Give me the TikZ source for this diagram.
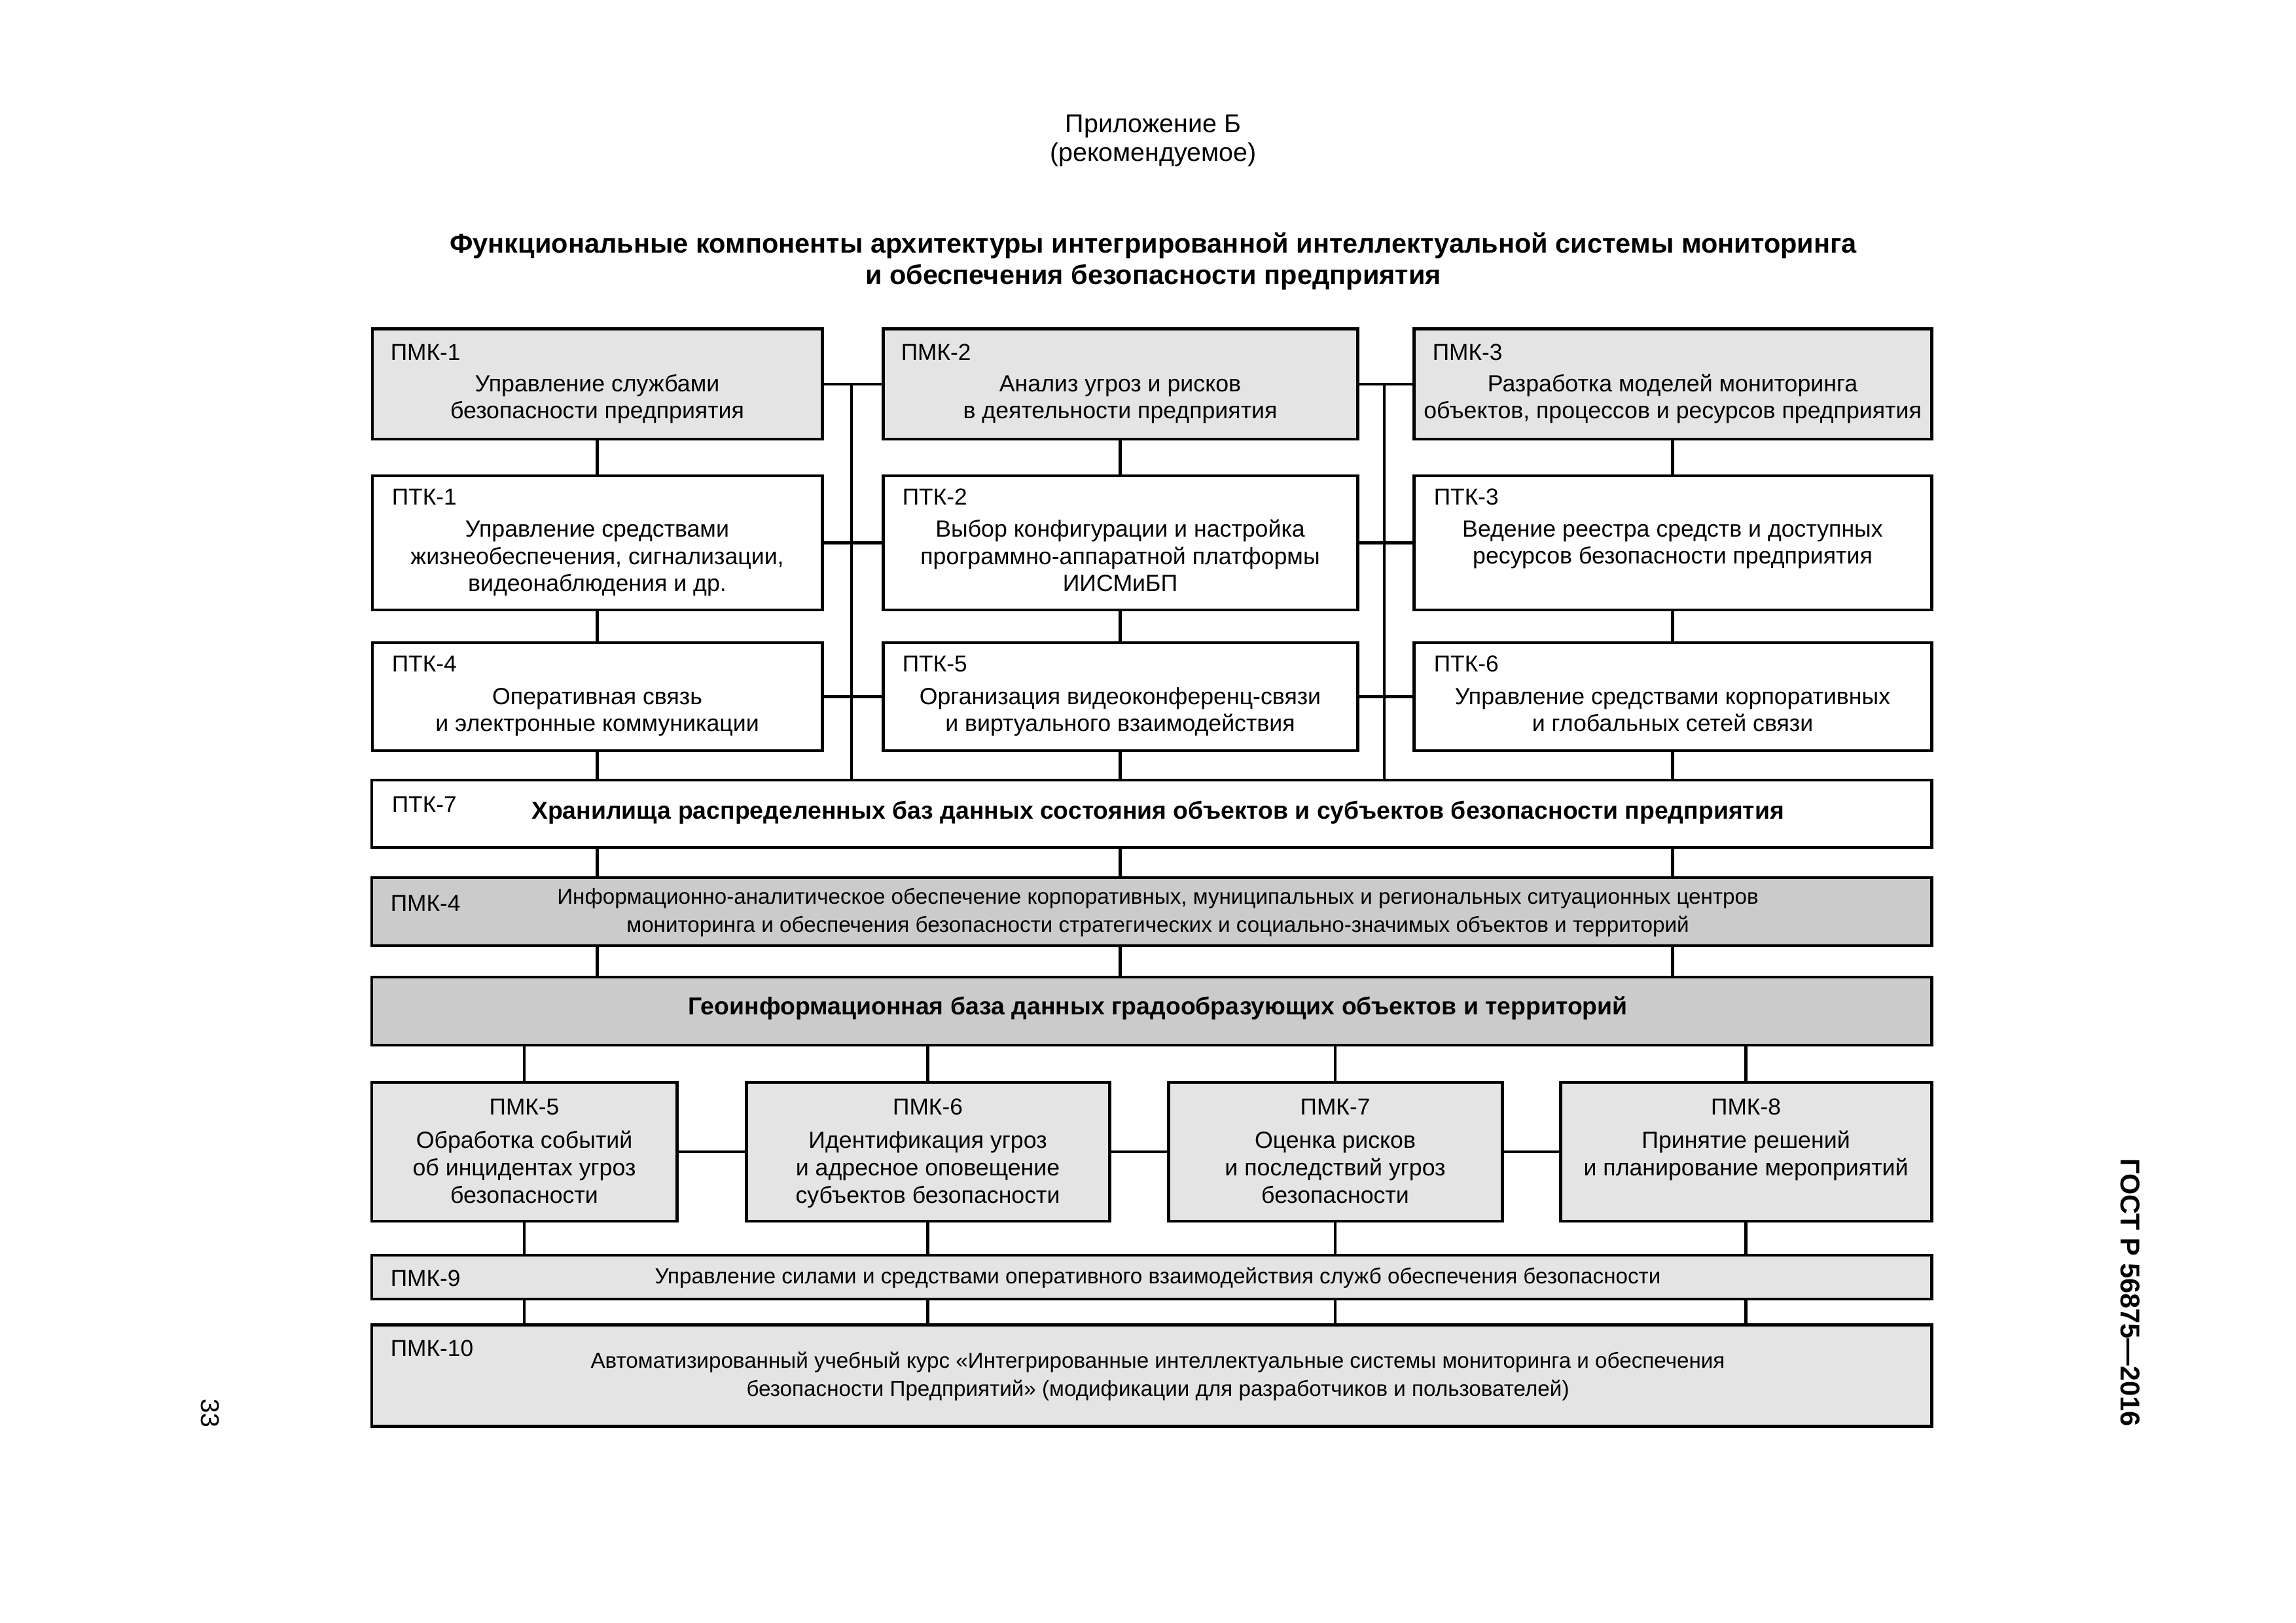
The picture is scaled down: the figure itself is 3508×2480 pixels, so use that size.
\documentclass[tikz,border=0pt]{standalone}
\usepackage{fontspec}
\setmainfont{Liberation Sans}
\newdimen\pxu \pxu=0.084664mm
\definecolor{lg}{HTML}{E4E4E4}
\definecolor{dg}{HTML}{CBCBCB}
\tikzset{
  box/.style={draw=black,line width=1.2pt,rectangle,inner sep=0pt,outer sep=0pt},
  conn/.style={draw=black,line width=1.05pt},
  lab/.style={inner sep=0pt,font=\fontsize{8.5}{10.1}\selectfont},
  txt/.style={inner sep=0pt,align=center,font=\fontsize{8.6}{10.1}\selectfont},
  wtxt/.style={inner sep=0pt,align=center,font=\fontsize{8}{10.3}\selectfont},
  btxt/.style={inner sep=0pt,align=center,font=\fontsize{9}{10.3}\selectfont\bfseries},
}
\newcommand\mkbox[6]{\node[box,fill=#6,minimum width={(#4-#2)*\pxu},minimum height={(#5-#3)*\pxu}] (#1) at ({(#2+#4)/2},{(#3+#5)/2}) {};}
\begin{document}
\begin{tikzpicture}[x=0.084664mm,y=-0.084664mm]
\useasboundingbox (0,0) rectangle (3508,2480);
% header (anchor=base refers to the last line of a node)
\node[inner sep=0pt,anchor=base,font=\fontsize{9.5}{11}\selectfont] (h1) at (1762,203) {Приложение Б};
\node[inner sep=0pt,anchor=base,font=\fontsize{9.5}{11}\selectfont] (h2) at (1762,247) {(рекомендуемое)};
\node[inner sep=0pt,anchor=base,align=center,font=\fontsize{10}{11.75}\selectfont\bfseries] (ttl) at (1762,435) {Функциональные компоненты архитектуры интегрированной интеллектуальной системы мониторинга\\и обеспечения безопасности предприятия};
% row 1
\mkbox{p1}{569}{503}{1256}{671}{lg}
\mkbox{p2}{1349}{503}{2074}{671}{lg}
\mkbox{p3}{2160}{503}{2951}{671}{lg}
% row 2
\mkbox{t1}{569}{727}{1256}{932}{white}
\mkbox{t2}{1349}{727}{2074}{932}{white}
\mkbox{t3}{2160}{727}{2951}{932}{white}
% row 3
\mkbox{t4}{569}{982}{1256}{1147}{white}
\mkbox{t5}{1349}{982}{2074}{1147}{white}
\mkbox{t6}{2160}{982}{2951}{1147}{white}
% wide
\mkbox{t7}{568}{1192}{2951}{1295}{white}
\mkbox{p4}{568}{1341}{2951}{1445}{dg}
\mkbox{geo}{568}{1493}{2951}{1597}{dg}
% bottom row
\mkbox{p5}{568}{1654}{1034}{1866}{lg}
\mkbox{p6}{1140}{1654}{1695}{1866}{lg}
\mkbox{p7}{1785}{1654}{2295}{1866}{lg}
\mkbox{p8}{2384}{1654}{2951}{1866}{lg}
\mkbox{p9}{568}{1918}{2951}{1985}{lg}
\mkbox{p10}{568}{2024}{2951}{2179}{lg}
% texts row 1
\node[lab,anchor=base west] at (596,551) {ПМК-1};
\node[txt,anchor=base] at (912.5,640) {Управление службами\\безопасности предприятия};
\node[lab,anchor=base west] at (1376,551) {ПМК-2};
\node[txt,anchor=base] at (1711.5,640) {Анализ угроз и рисков\\в деятельности предприятия};
\node[lab,anchor=base west] at (2188,551) {ПМК-3};
\node[txt,anchor=base] at (2555.5,640) {Разработка моделей мониторинга\\объектов, процессов и ресурсов предприятия};
% row 2
\node[lab,anchor=base west] at (598,772) {ПТК-1};
\node[txt,anchor=base] at (912.5,904) {Управление средствами\\жизнеобеспечения, сигнализации,\\видеонаблюдения и др.};
\node[lab,anchor=base west] at (1378,772) {ПТК-2};
\node[txt,anchor=base] at (1711.5,904) {Выбор конфигурации и настройка\\программно-аппаратной платформы\\ИИСМиБП};
\node[lab,anchor=base west] at (2190,772) {ПТК-3};
\node[txt,anchor=base] at (2555.5,862) {Ведение реестра средств и доступных\\ресурсов безопасности предприятия};
% row 3
\node[lab,anchor=base west] at (598,1027) {ПТК-4};
\node[txt,anchor=base] at (912.5,1118) {Оперативная связь\\и электронные коммуникации};
\node[lab,anchor=base west] at (1378,1027) {ПТК-5};
\node[txt,anchor=base] at (1711.5,1118) {Организация видеоконференц-связи\\и виртуального взаимодействия};
\node[lab,anchor=base west] at (2190,1027) {ПТК-6};
\node[txt,anchor=base] at (2555.5,1118) {Управление средствами корпоративных\\и глобальных сетей связи};
% wide
\node[lab,anchor=base west] at (598,1242) {ПТК-7};
\node[btxt,anchor=base] at (1769,1252) {Хранилища распределенных баз данных состояния объектов и субъектов безопасности предприятия};
\node[lab,anchor=base west] at (596,1392) {ПМК-4};
\node[wtxt,anchor=base] at (1769,1424) {Информационно-аналитическое обеспечение корпоративных, муниципальных и региональных ситуационных центров\\мониторинга и обеспечения безопасности стратегических и социально-значимых объектов и территорий};
\node[btxt,anchor=base] at (1769,1550) {Геоинформационная база данных градообразующих объектов и территорий};
% bottom row
\node[lab,anchor=base] at (801,1703) {ПМК-5};
\node[txt,anchor=base] at (801,1838) {Обработка событий\\об инцидентах угроз\\безопасности};
\node[lab,anchor=base] at (1417.5,1703) {ПМК-6};
\node[txt,anchor=base] at (1417.5,1838) {Идентификация угроз\\и адресное оповещение\\субъектов безопасности};
\node[lab,anchor=base] at (2040,1703) {ПМК-7};
\node[txt,anchor=base] at (2040,1838) {Оценка рисков\\и последствий угроз\\безопасности};
\node[lab,anchor=base] at (2667.5,1703) {ПМК-8};
\node[txt,anchor=base] at (2667.5,1796) {Принятие решений\\и планирование мероприятий};
\node[lab,anchor=base west] at (596,1965) {ПМК-9};
\node[wtxt,anchor=base] at (1769,1961) {Управление силами и средствами оперативного взаимодействия служб обеспечения безопасности};
\node[lab,anchor=base west] at (596,2072) {ПМК-10};
\node[wtxt,anchor=base] at (1769,2133) {Автоматизированный учебный курс «Интегрированные интеллектуальные системы мониторинга и обеспечения\\безопасности Предприятий» (модификации для разработчиков и пользователей)};
% side texts
\node[inner sep=0pt,rotate=-90,font=\fontsize{9.5}{11}\selectfont] (pg) at (321,2159) {33};
\node[inner sep=0pt,rotate=-90,font=\fontsize{10}{12}\selectfont\bfseries] (gost) at (3255,1975) {ГОСТ Р 56875—2016};
% connectors: horizontal in top block
\draw[conn] (p1.east) -- (p2.west);
\draw[conn] (p2.east) -- (p3.west);
\draw[conn] (t1.east) -- (t2.west);
\draw[conn] (t2.east) -- (t3.west);
\draw[conn] (t4.east) -- (t5.west);
\draw[conn] (t5.east) -- (t6.west);
% buses
\coordinate (b1) at (1301,587);
\coordinate (b2) at (2115,587);
\draw[conn] (b1) -- (b1 |- t7.north);
\draw[conn] (b2) -- (b2 |- t7.north);
% verticals in columns
\foreach \a/\b in {p1/t1,t1/t4,t4/t7,p2/t2,t2/t5,t5/t7,p3/t3,t3/t6,t6/t7}{
  \draw[conn] (\a.south) -- (\a.south |- \b.north);
}
\foreach \c in {t1,t2,t3}{
  \draw[conn] (\c.south |- t7.south) -- (\c.south |- p4.north);
  \draw[conn] (\c.south |- p4.south) -- (\c.south |- geo.north);
}
% bottom block
\draw[conn] (p5.east) -- (p6.west);
\draw[conn] (p6.east) -- (p7.west);
\draw[conn] (p7.east) -- (p8.west);
\foreach \c in {p5,p6,p7,p8}{
  \draw[conn] (\c.north |- geo.south) -- (\c.north);
  \draw[conn] (\c.south) -- (\c.south |- p9.north);
  \draw[conn] (\c.south |- p9.south) -- (\c.south |- p10.north);
}
\end{tikzpicture}
\end{document}
